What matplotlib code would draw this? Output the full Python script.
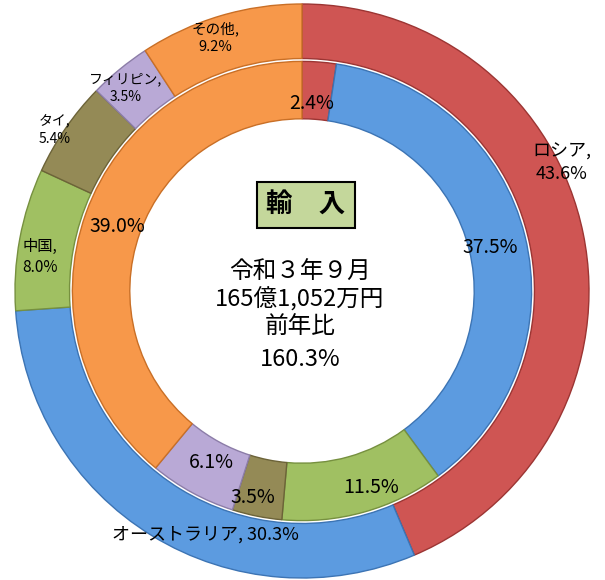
import matplotlib
matplotlib.use("Agg")
import matplotlib.pyplot as plt

plt.rcParams['font.family'] = ['Noto Sans CJK JP', 'DejaVu Sans']

# outer ring (数量?) and inner ring shares, clockwise from 12 o'clock
outer_names = ["ロシア", "オーストラリア", "中国", "タイ", "フィリピン", "その他"]
outer_vals = [43.6, 30.3, 8.0, 5.4, 3.5, 9.2]
inner_vals = [2.4, 37.5, 11.5, 3.5, 6.1, 39.0]
colors = ["#cf5553", "#5c9be0", "#a0c062", "#948a56", "#b9a9d6", "#f7984a"]
edges = ["#9c3533", "#3c74b4", "#76903f", "#6c6338", "#8c7da8", "#c96f26"]

title = "輸　入"
center_lines = ["令和３年９月", "165億1,052万円", "前年比", "160.3%"]

# label placement (fraction of outer radius), font sizes
outer_pos = [(0.905, 0.446), (-0.338, -0.850), (-0.913, 0.118),
             (-0.861, 0.561), (-0.615, 0.707), (-0.303, 0.882)]
outer_size = [13, 13, 11, 10, 10, 10.5]
outer_twoline = [True, False, True, True, True, True]
inner_pos = [(0.035, 0.655), (0.655, 0.150), (0.240, -0.683),
             (-0.171, -0.718), (-0.317, -0.599), (-0.645, 0.226)]
center_y = [0.066, -0.031, -0.125, -0.240]

fig = plt.figure(figsize=(6.05, 5.80), dpi=100)
ax = fig.add_axes([0, 0, 1, 1])

ax.pie(outer_vals, radius=1.0, startangle=90, counterclock=False,
       colors=colors, wedgeprops=dict(width=0.19, linewidth=1.0))
w_out = ax.patches[:]
ax.pie(inner_vals, radius=0.80, startangle=90, counterclock=False,
       colors=colors, wedgeprops=dict(width=0.20, linewidth=1.0))
w_in = ax.patches[len(w_out):]
for w, e in zip(w_out, edges):
    w.set_edgecolor(e)
for w, e in zip(w_in, edges):
    w.set_edgecolor(e)

for name, v, (x, y), fs, two in zip(outer_names, outer_vals, outer_pos,
                                     outer_size, outer_twoline):
    sep = ",\n" if two else ", "
    ax.text(x, y, f"{name}{sep}{v:.1f}%", ha="center", va="center",
            fontsize=fs, linespacing=1.3)

for v, (x, y) in zip(inner_vals, inner_pos):
    ax.text(x, y, f"{v:.1f}%", ha="center", va="center", fontsize=14)

ax.text(0.014, 0.300, title, ha="center", va="center", fontsize=19,
        fontweight="bold",
        bbox=dict(boxstyle="square,pad=0.35", facecolor="#c4d79b",
                  edgecolor="black", linewidth=1.5))
for line, y in zip(center_lines, center_y):
    ax.text(-0.007, y, line, ha="center", va="center", fontsize=17)

ax.set_aspect("auto")
ax.set_xlim(-302 / 287, 303 / 287)
ax.set_ylim(-289 / 287, 291 / 287)
ax.axis("off")

fig.savefig("out.png", dpi=100)
